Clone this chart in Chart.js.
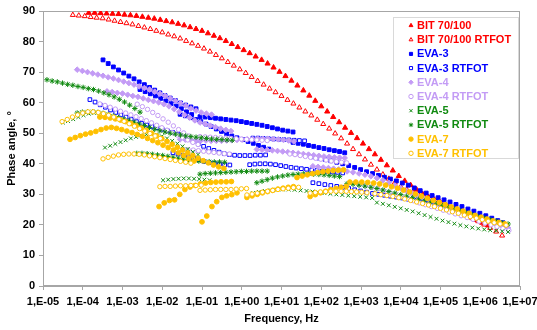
<!DOCTYPE html>
<html>
<head>
<meta charset="utf-8">
<script src="https://cdn.jsdelivr.net/npm/chart.js@4.4.1/dist/chart.umd.min.js"></script>
<style>
  html, body { margin: 0; padding: 0; background: #fff; }
  #wrap { width: 537px; height: 330px; }
</style>
</head>
<body>
<div id="wrap"><canvas id="phaseChart" width="537" height="330"></canvas></div>
<script>
// values: [log10(frequency, Hz), phase angle in degrees]
const bit70 = [
  [-3.85,89.4],[-3.7,89.4],[-3.55,89.3],[-3.4,89.2],[-3.25,89.1],[-3.1,89.0],[-2.95,88.8],[-2.8,88.6],[-2.65,88.4],[-2.5,88.1],
  [-2.35,87.8],[-2.2,87.5],[-2.05,87.1],[-1.9,86.7],[-1.75,86.3],[-1.6,85.8],[-1.45,85.3],[-1.3,84.7],[-1.15,84.1],[-1.0,83.5],
  [-0.85,82.7],[-0.7,81.9],[-0.55,81.1],[-0.4,80.2],[-0.25,79.2],[-0.1,78.2],[0.05,77.2],[0.2,76.2],[0.35,75.1],[0.5,74.0],
  [0.65,72.8],[0.8,71.5],[0.95,70.1],[1.1,68.7],[1.25,67.2],[1.4,65.6],[1.55,64.0],[1.7,62.3],[1.85,60.6],[2.0,58.8],
  [2.15,57.1],[2.3,55.3],[2.45,53.6],[2.6,51.8],[2.75,50.1],[2.9,48.4],[3.05,46.6],[3.2,44.8],[3.35,43.1],[3.5,41.3],
  [3.65,39.5],[3.8,37.8],[3.95,36.0],[4.1,34.4],[4.25,33.0],[4.4,31.5],[4.55,30.1],[4.7,29.1],[4.85,28.2],[5.0,27.3],
  [5.15,26.4],[5.3,25.5],[5.45,24.6],[5.6,23.6],[5.75,22.6],[5.9,21.6],[6.05,20.7],[6.2,19.8]
];
const bit70Rtfot = [
  [-4.25,88.7],[-4.1,88.5],[-3.95,88.3],[-3.8,88.0],[-3.65,87.8],[-3.5,87.6],[-3.35,87.2],[-3.2,86.8],[-3.05,86.4],[-2.9,86.0],
  [-2.75,85.6],[-2.6,85.1],[-2.45,84.6],[-2.3,84.1],[-2.15,83.5],[-2.0,83.0],[-1.85,82.3],[-1.7,81.7],[-1.55,81.0],[-1.4,80.2],
  [-1.25,79.4],[-1.1,78.6],[-0.95,77.7],[-0.8,76.7],[-0.65,75.6],[-0.5,74.5],[-0.35,73.3],[-0.2,72.1],[-0.05,70.9],[0.1,69.7],
  [0.25,68.4],[0.4,67.1],[0.55,65.9],[0.7,64.6],[0.85,63.4],[1.0,62.2],[1.15,60.9],[1.3,59.7],[1.45,58.4],[1.6,57.1],
  [1.75,55.8],[1.9,54.4],[2.05,53.0],[2.2,51.5],[2.35,49.9],[2.5,48.3],[2.65,46.6],[2.8,44.8],[2.95,43.1],[3.1,41.4],
  [3.25,39.7],[3.4,38.1],[3.55,36.5],[3.7,35.1],[3.85,33.8],[4.0,32.5],[4.15,31.6],[4.3,30.7],[4.45,29.8],[4.6,29.0],
  [4.75,28.2],[4.9,27.5],[5.05,26.7],[5.2,25.9],[5.35,25.0],[5.5,24.2],[5.65,23.2],[5.8,22.2],[5.95,21.2],[6.1,20.1],
  [6.25,19.0],[6.4,17.8],[6.55,16.5]
];
const eva3 = [
  [-3.49,74.0],[-3.36,72.8],[-3.23,71.7],[-3.1,70.7],[-2.97,69.7],[-2.84,68.7],[-2.71,67.8],[-2.58,66.8],[-2.45,65.9],[-2.32,65.0],
  [-2.19,64.1],[-2.06,63.2],[-1.93,62.3],[-1.8,61.5],[-1.67,60.7],[-1.54,59.9],[-1.41,59.2],[-1.28,58.6],[-1.15,58.0],
  [-2.56,64.3],[-2.43,63.6],[-2.3,62.9],[-2.17,62.2],[-2.04,61.4],[-1.91,60.6],[-1.78,59.7],[-1.65,58.9],[-1.52,58.0],[-1.39,57.0],[-1.26,56.1],
  [-1.55,56.2],[-1.42,55.7],[-1.29,55.1],[-1.16,54.5],[-1.03,53.8],[-0.9,53.0],[-0.77,52.2],[-0.64,51.4],[-0.51,50.6],[-0.38,49.8],[-0.25,49.1],[-0.12,48.5],
  [-1.05,55.4],[-0.92,55.3],[-0.79,55.1],[-0.66,54.9],[-0.53,54.7],[-0.4,54.5],[-0.27,54.3],[-0.14,54.1],[-0.01,53.8],[0.12,53.5],
  [0.25,53.2],[0.38,52.9],[0.51,52.6],[0.64,52.2],[0.77,51.8],[0.9,51.4],[1.03,51.0],[1.16,50.7],[1.29,50.4],
  [0.03,47.9],[0.16,47.3],[0.29,46.7],[0.42,46.0],[0.55,45.4],[0.68,44.8],
  [1.29,47.0],[1.42,46.7],[1.55,46.4],[1.68,46.0],[1.81,45.7],[1.94,45.3],[2.07,45.0],[2.2,44.6],[2.33,44.3],[2.46,44.0],[2.59,43.6],
  [1.79,42.3],[1.94,41.9],[2.09,41.5],[2.24,41.0],[2.39,40.5],[2.54,40.0],[2.69,39.4],[2.84,38.8],[2.99,38.1],[3.14,37.4],
  [3.29,36.8],[3.44,36.2],[3.59,35.6],[3.74,35.0],[3.89,34.4],[4.04,33.7],[4.19,33.0],[4.34,32.1],[4.49,31.2],[4.64,30.4],
  [4.79,29.6],[4.94,28.9],[5.09,28.2],[5.24,27.5],[5.39,26.7],[5.54,26.0],[5.69,25.2],[5.84,24.5],[5.99,23.8],[6.14,23.0],
  [6.29,22.2],[6.44,21.4],[6.57,20.7]
];
const eva3Rtfot = [
  [-3.82,61.0],[-3.69,60.2],[-3.56,59.3],[-3.43,58.5],[-3.3,57.6],[-3.17,56.8],[-3.04,56.0],[-2.91,55.2],[-2.78,54.5],[-2.65,53.8],
  [-2.52,53.2],[-2.39,52.7],[-2.26,52.2],[-2.13,51.8],[-2.0,51.3],[-1.87,50.8],[-1.74,50.3],[-1.61,49.7],[-1.48,49.0],[-1.35,48.2],
  [-1.22,47.3],[-1.09,46.5],[-0.96,45.7],[-0.83,45.0],[-0.7,44.4],[-0.57,43.8],[-0.44,43.3],[-0.31,43.0],[-0.18,42.8],[-0.05,42.7],
  [0.08,42.7],[0.21,42.7],[0.34,42.8],[0.47,42.8],[0.6,42.9],
  [-1.73,43.6],[-1.6,43.2],[-1.47,42.8],[-1.34,42.3],[-1.21,41.8],[-1.08,41.3],[-0.95,40.8],[-0.82,40.4],[-0.69,40.1],[-0.56,39.9],[-0.43,39.7],[-0.3,39.6],
  [0.28,48.4],[0.41,48.4],[0.54,48.3],[0.67,48.2],[0.8,48.1],[0.93,48.0],[1.06,47.9],[1.19,47.8],[1.32,47.7],[1.45,47.6],[1.58,47.5],
  [0.2,39.7],[0.33,39.9],[0.46,40.0],[0.59,40.0],[0.72,39.9],[0.85,39.7],[0.98,39.4],[1.11,39.1],[1.24,38.8],[1.37,38.6],
  [1.5,38.4],[1.63,38.2],[1.76,38.0],[1.89,37.8],[2.02,37.6],[2.15,37.5],[2.28,37.3],[2.41,37.2],[2.54,37.0],
  [1.79,33.8],[1.94,33.5],[2.09,33.2],[2.24,32.9],[2.39,32.6],[2.54,32.3],[2.69,31.9],[2.84,31.5],[2.99,31.1],[3.14,30.7],
  [3.29,30.3],[3.44,30.0],[3.59,29.7],[3.74,29.4],[3.89,29.1],[4.04,28.8],[4.19,28.4],[4.34,28.0],[4.49,27.5],[4.64,27.0],
  [4.79,26.5],[4.94,26.0],[5.09,25.4],[5.24,24.8],[5.39,24.2],[5.54,23.6],[5.69,23.0],[5.84,22.4],[5.99,21.8],[6.14,21.2],
  [6.29,20.6],[6.44,20.0],[6.59,19.4]
];
const eva4 = [
  [-4.14,70.8],[-4.01,70.4],[-3.88,70.0],[-3.75,69.6],[-3.62,69.2],[-3.49,68.8],[-3.36,68.3],[-3.23,67.9],[-3.1,67.4],[-2.97,66.9],
  [-2.84,66.4],[-2.71,65.9],[-2.58,65.3],[-2.45,64.8],[-2.32,64.3],[-2.19,63.6],[-2.06,62.9],[-1.93,62.2],[-1.8,61.4],[-1.67,60.6],
  [-1.54,59.8],[-1.41,59.0],[-1.28,58.1],[-1.15,57.4],[-1.02,56.8],[-0.89,56.4],[-0.76,56.1],
  [-3.39,63.7],[-3.26,63.5],[-3.13,63.2],[-3.0,63.0],[-2.87,62.6],[-2.74,62.2],[-2.61,61.9],[-2.48,61.4],[-2.35,60.9],[-2.22,60.5],
  [-2.09,60.1],[-1.96,59.5],[-1.83,58.8],[-1.7,57.9],[-1.57,57.0],[-1.44,56.0],[-1.31,55.1],[-1.18,54.2],[-1.05,53.5],[-0.92,53.0],
  [-0.79,52.5],[-0.66,52.0],[-0.53,51.5],[-0.4,51.1],[-0.27,50.7],
  [-1.55,48.0],[-1.42,47.9],[-1.29,47.8],[-1.16,47.7],[-1.03,47.6],[-0.9,47.6],[-0.77,47.5],[-0.64,47.5],[-0.51,47.5],[-0.38,47.6],
  [-0.25,47.7],[-0.12,47.8],[0.01,47.9],[0.14,48.0],[0.27,48.1],[0.4,48.2],[0.53,48.2],[0.66,48.2],[0.79,48.1],[0.92,48.0],
  [1.05,47.8],[1.18,47.6],[1.31,47.3],
  [0.38,44.7],[0.51,44.6],[0.64,44.5],[0.77,44.4],[0.9,44.2],[1.03,44.0],[1.16,43.8],[1.29,43.6],[1.42,43.4],[1.55,43.2],
  [1.68,43.0],[1.81,42.8],[1.94,42.6],[2.07,42.4],[2.2,42.3],[2.33,42.1],[2.46,42.0],[2.59,41.9],
  [1.79,39.2],[1.92,39.0],[2.05,38.8],[2.18,38.6],[2.31,38.4],[2.44,38.2],
  [2.65,37.5],[2.8,37.2],[2.95,36.8],[3.1,36.4],[3.25,35.9],[3.4,35.3],[3.55,34.6],[3.7,33.8],[3.85,32.9],[4.0,32.0],
  [4.15,31.0],[4.3,30.1],[4.45,29.2],[4.6,28.4],[4.75,27.6],[4.9,26.9],[5.05,26.2],[5.2,25.5],[5.35,24.8],[5.5,24.1],
  [5.65,23.4],[5.8,22.7],[5.95,22.0],[6.1,21.4],[6.25,20.8],[6.4,20.2],[6.55,19.6],[6.7,19.0]
];
const eva4Rtfot = [
  [-3.57,59.6],[-3.44,59.1],[-3.31,58.5],[-3.18,57.9],[-3.05,57.2],[-2.92,56.6],[-2.79,56.0],[-2.66,55.4],[-2.53,54.8],[-2.4,54.1],
  [-2.27,53.4],[-2.14,52.6],[-2.01,51.8],[-1.88,51.0],[-1.75,50.2],[-1.62,49.4],[-1.49,48.6],[-1.36,47.8],[-1.23,47.0],[-1.1,46.3],
  [-2.63,59.5],[-2.5,58.7],[-2.37,57.8],[-2.24,56.8],[-2.11,55.8],[-1.98,54.7],[-1.85,53.6],[-1.72,52.4],[-1.59,51.2],[-1.46,50.1],[-1.33,49.1],
  [-1.05,48.9],[-0.92,48.8],[-0.79,48.7],[-0.66,48.6],[-0.53,48.5],[-0.4,48.4],[-0.27,48.3],[-0.14,48.2],[-0.01,48.1],[0.12,48.0],
  [0.25,47.9],[0.38,47.8],[0.51,47.7],[0.64,47.6],
  [-1.48,44.7],[-1.35,44.6],[-1.22,44.5],[-1.09,44.3],[-0.96,44.1],[-0.83,43.9],[-0.7,43.7],[-0.57,43.5],[-0.44,43.3],[-0.31,43.2],
  [1.21,43.2],[1.34,43.0],[1.47,42.7],[1.6,42.4],[1.73,42.1],[1.86,41.8],[1.99,41.5],[2.12,41.2],[2.25,40.9],[2.38,40.7],[2.51,40.5],[2.64,40.3],
  [2.97,33.2],[3.12,32.8],[3.27,32.3],[3.42,31.8],[3.57,31.2],[3.72,30.6],[3.87,30.0],[4.02,29.3],[4.17,28.6],[4.32,27.9],
  [4.47,27.2],[4.62,26.6],[4.77,26.0],[4.92,25.4],[5.07,24.8],[5.22,24.2],[5.37,23.6],[5.52,23.0],[5.67,22.4],[5.82,21.8],
  [5.97,21.2],[6.12,20.6],[6.27,20.0],[6.42,19.4],[6.57,18.8],[6.72,18.2]
];
const eva5 = [
  [-4.5,53.5],[-4.37,54.0],[-4.24,54.6],[-4.11,55.3],[-3.98,55.9],[-3.85,56.4],[-3.72,56.7],
  [-3.44,45.3],[-3.31,45.9],[-3.18,46.5],[-3.05,47.1],[-2.92,47.7],[-2.79,48.3],[-2.66,48.8],[-2.53,49.3],[-2.4,49.6],[-2.27,49.7],
  [-2.14,49.5],[-2.01,49.0],[-1.88,48.3],[-1.75,47.5],[-1.62,46.6],[-1.49,45.7],[-1.36,44.8],[-1.23,43.9],[-1.1,43.0],
  [-1.98,34.6],[-1.85,34.8],[-1.72,35.0],[-1.59,35.1],[-1.46,35.2],[-1.33,35.2],[-1.2,35.1],[-1.07,35.0],[-0.94,34.8],[-0.81,34.6],
  [0.28,30.4],[0.43,30.8],[0.58,31.1],[0.73,31.3],[0.88,31.5],[1.03,31.6],[1.18,31.6],[1.33,31.5],[1.48,31.3],[1.63,31.1],
  [1.78,30.9],[1.93,30.6],[2.08,30.4],[2.23,30.2],[2.38,30.0],[2.53,29.8],[2.68,29.6],[2.83,29.4],[2.98,29.2],[3.13,29.0],[3.28,28.8],
  [3.4,27.3],[3.55,26.9],[3.7,26.4],[3.85,25.9],[4.0,25.4],[4.15,24.9],[4.3,24.4],[4.45,23.8],[4.6,23.2],[4.75,22.6],
  [4.9,22.0],[5.05,21.4],[5.2,20.9],[5.35,20.4],[5.5,19.9],[5.65,19.5],[5.8,19.1],[5.95,18.8],[6.1,18.5],[6.25,18.3],
  [6.4,18.1],[6.55,17.9],[6.7,17.7]
];
const eva5Rtfot = [
  [-4.9,67.5],[-4.77,67.1],[-4.64,66.8],[-4.51,66.4],[-4.38,66.0],[-4.25,65.7],[-4.12,65.3],[-3.99,65.0],[-3.86,64.6],[-3.73,64.3],
  [-3.6,63.8],[-3.47,63.2],[-3.34,62.6],[-3.21,61.9],[-3.08,61.1],[-2.95,60.2],[-2.82,59.2],[-2.69,58.1],[-2.56,56.9],
  [-4.14,56.6],[-4.01,56.9],[-3.88,57.0],[-3.75,57.0],[-3.62,56.8],[-3.49,56.5],[-3.36,56.1],[-3.23,55.6],[-3.1,55.1],[-2.97,54.6],
  [-2.84,54.1],[-2.71,53.6],[-2.58,53.0],[-2.45,52.5],[-2.32,51.9],[-2.19,51.3],[-2.06,50.8],[-1.93,50.4],[-1.8,50.0],[-1.67,49.7],
  [-1.54,49.4],[-1.41,49.1],[-1.28,48.9],[-1.15,48.7],[-1.02,48.5],[-0.89,48.3],[-0.76,48.1],[-0.63,48.0],[-0.5,47.9],[-0.37,47.8],[-0.24,47.7],
  [-2.64,43.4],[-2.51,43.4],[-2.38,43.3],[-2.25,43.1],[-2.12,42.9],[-1.99,42.7],[-1.86,42.4],[-1.73,42.1],[-1.6,41.8],[-1.47,41.5],
  [-1.34,41.3],[-1.21,41.1],[-1.08,40.9],[-0.95,40.8],[-0.82,40.7],[-0.69,40.6],[-0.56,40.6],[-0.43,40.5],
  [-1.05,36.6],[-0.92,36.8],[-0.79,36.9],[-0.66,37.0],[-0.53,37.1],[-0.4,37.2],[-0.27,37.3],[-0.14,37.4],[-0.01,37.5],[0.12,37.5],
  [0.25,37.6],[0.38,37.6],[0.51,37.6],[0.64,37.6],
  [0.38,33.8],[0.51,34.3],[0.64,34.8],[0.77,35.3],[0.9,35.7],[1.03,36.0],[1.16,36.3],[1.29,36.5],[1.42,36.6],[1.55,36.7],
  [1.68,36.7],[1.81,36.6],[1.94,36.5],[2.07,36.4],[2.2,36.2],[2.33,36.0],[2.46,35.8],
  [2.65,33.5],[2.8,33.3],[2.95,33.0],[3.1,32.7],[3.25,32.3],[3.4,31.9],[3.55,31.4],[3.7,30.9],[3.85,30.4],[4.0,29.9],
  [4.15,29.4],[4.3,28.9],[4.45,28.4],[4.6,27.9],[4.75,27.4],[4.9,26.9],[5.05,26.3],[5.2,25.7],[5.35,25.1],[5.5,24.5],
  [5.65,23.9],[5.8,23.3],[5.95,22.7],[6.1,22.2],[6.25,21.7],[6.4,21.2],[6.55,20.7],[6.7,20.3]
];
const eva7 = [
  [-4.32,48.0],[-4.19,48.6],[-4.06,49.2],[-3.93,49.7],[-3.8,50.1],[-3.67,50.6],[-3.54,51.2],[-3.41,51.7],[-3.28,51.9],[-3.15,51.6],
  [-3.02,51.2],[-2.89,50.7],[-2.76,50.2],[-2.63,49.6],[-2.5,49.0],[-2.37,48.3],[-2.24,47.6],[-2.11,46.9],[-1.98,46.1],[-1.85,45.3],
  [-1.72,44.5],[-1.59,43.6],[-1.46,42.7],[-1.33,41.8],[-1.2,40.9],
  [-3.57,55.3],[-3.44,55.2],[-3.31,55.0],[-3.18,54.7],[-3.05,54.3],[-2.92,53.8],[-2.79,53.2],[-2.66,52.5],[-2.53,51.7],[-2.4,50.9],
  [-2.27,50.0],[-2.14,49.1],[-2.01,48.2],[-1.88,47.3],[-1.75,46.4],[-1.62,45.4],[-1.49,44.5],[-1.36,43.6],[-1.23,42.7],[-1.1,41.8],
  [-0.97,41.0],[-0.84,40.3],[-0.71,39.6],[-0.58,39.0],[-0.45,38.5],
  [-2.08,26.0],[-1.95,27.2],[-1.82,28.0],[-1.69,28.2],[-1.56,30.0],[-1.43,31.6],[-1.3,32.4],[-1.17,32.9],[-1.04,33.4],[-0.91,33.7],
  [-0.78,33.9],[-0.65,34.0],[-0.52,34.1],[-0.39,34.1],[-0.26,34.2],
  [-1.0,21.0],[-0.88,22.9],[-0.75,26.0],[-0.63,27.6],[-0.5,29.0],[-0.38,29.5],[-0.25,29.9],[-0.12,30.5],
  [0.13,29.0],[0.26,29.5],[0.39,30.0],[0.52,30.5],[0.65,30.9],[0.78,31.3],[0.91,31.7],[1.04,32.0],[1.17,32.3],[1.3,32.5],
  [1.72,29.3],[1.85,29.9],[1.98,30.5],[2.11,31.0],[2.24,31.5],[2.37,31.9],[2.5,32.3],[2.63,32.6],
  [1.39,35.5],[1.52,36.0],[1.65,36.4],[1.78,36.8],[1.91,37.1],[2.04,37.4],[2.17,37.6],[2.3,37.8],[2.43,37.9],[2.56,38.0],
  [2.72,34.0],[2.87,34.0],[3.02,34.0],[3.17,33.9],[3.32,33.7],[3.47,33.4],[3.62,33.0],[3.77,32.5],[3.92,32.0],[4.07,31.4],
  [4.22,30.8],[4.37,30.1],[4.52,29.4],[4.67,28.7],[4.82,28.0],[4.97,27.3],[5.12,26.6],[5.27,25.9],[5.42,25.2],[5.57,24.5],
  [5.72,23.8],[5.87,23.1],[6.02,22.5],[6.17,21.9],[6.32,21.3],[6.47,20.8],[6.62,20.3]
];
const eva7Rtfot = [
  [-4.52,53.8],[-4.39,54.5],[-4.26,55.3],[-4.13,56.0],[-4.0,56.6],[-3.87,57.0],[-3.74,57.0],[-3.61,56.8],[-3.48,56.4],[-3.35,55.9],
  [-3.22,55.3],[-3.09,54.6],[-2.96,53.9],[-2.83,53.1],[-2.7,52.3],[-2.57,51.5],[-2.44,50.7],[-2.31,49.9],[-2.18,49.1],[-2.05,48.3],
  [-3.49,41.6],[-3.36,42.1],[-3.23,42.5],[-3.1,42.9],[-2.97,43.1],[-2.84,43.2],[-2.71,43.2],[-2.58,43.1],[-2.45,42.9],[-2.32,42.6],
  [-2.19,42.3],[-2.06,42.0],[-1.93,41.7],[-1.8,41.4],[-1.67,41.1],[-1.54,40.8],[-1.41,40.5],[-1.28,40.2],
  [-2.06,32.5],[-1.93,32.6],[-1.8,32.6],[-1.67,32.7],[-1.54,32.8],[-1.41,32.8],[-1.28,32.9],[-1.15,32.9],[-1.02,33.0],
  [-1.05,31.3],[-0.92,31.4],[-0.79,31.5],[-0.66,31.6],[-0.53,31.6],[-0.4,31.6],[-0.27,31.6],[-0.14,31.7],[-0.01,31.8],[0.12,31.9],
  [0.13,29.8],[0.26,30.1],[0.39,30.4],[0.52,30.7],[0.65,31.0],[0.78,31.3],[0.91,31.6],[1.04,31.8],[1.17,32.0],[1.3,32.2],[1.43,32.3],
  [1.72,30.4],[1.85,30.6],[1.98,30.8],[2.11,30.9],[2.24,31.0],[2.37,31.0],[2.5,31.0],[2.63,31.0],[2.76,30.9],[2.89,30.8],[3.02,30.7],[3.15,30.5],
  [3.35,30.2],[3.5,29.9],[3.65,29.6],[3.8,29.3],[3.95,28.9],[4.1,28.5],[4.25,28.0],[4.4,27.5],[4.55,27.0],[4.7,26.5],
  [4.85,26.0],[5.0,25.4],[5.15,24.9],[5.3,24.3],[5.45,23.8],[5.6,23.2],[5.75,22.7],[5.9,22.2],[6.05,21.7],[6.2,21.2],
  [6.35,20.7],[6.5,20.3],[6.65,19.9]
];

const seriesNames = ['BIT 70/100', 'BIT 70/100 RTFOT', 'EVA-3', 'EVA-3 RTFOT', 'EVA-4', 'EVA-4 RTFOT',
                     'EVA-5', 'EVA-5 RTFOT', 'EVA-7', 'EVA-7 RTFOT'];
const seriesValues = [bit70, bit70Rtfot, eva3, eva3Rtfot, eva4, eva4Rtfot, eva5, eva5Rtfot, eva7, eva7Rtfot];
const xTickExps = [-5, -4, -3, -2, -1, 0, 1, 2, 3, 4, 5, 6, 7];
const yTicks = [0, 10, 20, 30, 40, 50, 60, 70, 80, 90];

// marker look per series
const seriesStyles = [
  { color: '#FF0000', shape: 'triangle', open: false, r: 3.0 },
  { color: '#FF0000', shape: 'triangle', open: true,  r: 2.9 },
  { color: '#0000FF', shape: 'rect',     open: false, r: 2.7 },
  { color: '#0000FF', shape: 'rect',     open: true,  r: 2.6 },
  { color: '#C39BF5', shape: 'rectRot',  open: false, r: 2.8 },
  { color: '#C39BF5', shape: 'circle',   open: true,  r: 2.2 },
  { color: '#108A10', shape: 'crossRot', open: false, r: 2.7 },
  { color: '#108A10', shape: 'star',     open: false, r: 2.7 },
  { color: '#FFC000', shape: 'circle',   open: false, r: 2.4 },
  { color: '#FFC000', shape: 'circle',   open: true,  r: 2.2 }
];

const font = '"Liberation Sans", Arial, sans-serif';

const datasets = seriesValues.map((vals, i) => {
  const st = seriesStyles[i];
  return {
    label: seriesNames[i],
    data: vals.map(p => ({ x: Math.pow(10, p[0]), y: p[1] })),
    showLine: false,
    pointStyle: st.shape,
    pointRadius: st.r,
    pointHoverRadius: st.r,
    pointBorderWidth: 1,
    borderColor: st.color,
    backgroundColor: st.open ? '#FFFFFF' : st.color,
    order: -i
  };
});

// grey box round the plot area
const plotFrame = {
  id: 'plotFrame',
  beforeDatasetsDraw(chart) {
    const { ctx, chartArea: a } = chart;
    ctx.save();
    ctx.strokeStyle = '#A6A6A6';
    ctx.lineWidth = 1;
    ctx.strokeRect(Math.round(a.left) + 0.5, Math.round(a.top) + 0.5, Math.round(a.width) - 1, Math.round(a.height) - 1);
    ctx.restore();
  }
};

// legend box drawn inside the plot, top right
const insideLegend = {
  id: 'insideLegend',
  afterDatasetsDraw(chart) {
    const { ctx, chartArea } = chart;
    const boxW = 125, boxH = 141;
    const x0 = Math.round(chartArea.right) - boxW - 2;
    const y0 = Math.round(chartArea.top) + 6;
    ctx.save();
    ctx.fillStyle = '#FFFFFF';
    ctx.fillRect(x0, y0, boxW, boxH);
    ctx.strokeStyle = '#D9D9D9';
    ctx.lineWidth = 1;
    ctx.strokeRect(x0 + 0.5, y0 + 0.5, boxW, boxH);
    ctx.font = 'bold 11px ' + font;
    ctx.textBaseline = 'middle';
    ctx.textAlign = 'left';
    chart.data.datasets.forEach((ds, i) => {
      const y = y0 + 8.5 + i * 14.2;
      ctx.strokeStyle = ds.borderColor;
      ctx.fillStyle = ds.backgroundColor;
      ctx.lineWidth = 1;
      if (Chart.helpers && Chart.helpers.drawPoint) {
        Chart.helpers.drawPoint(ctx, { pointStyle: ds.pointStyle, radius: 2.2, borderWidth: 1, rotation: 0 }, x0 + 18, y);
      } else {
        ctx.beginPath(); ctx.arc(x0 + 18, y, 2.2, 0, Math.PI * 2); ctx.fill(); ctx.stroke();
      }
      ctx.fillStyle = ds.borderColor;
      ctx.fillText(ds.label, x0 + 24, y + 0.5);
    });
    ctx.restore();
  }
};

new Chart(document.getElementById('phaseChart'), {
  type: 'scatter',
  data: { datasets: datasets },
  options: {
    responsive: false,
    animation: false,
    devicePixelRatio: 1,
    layout: { padding: { top: 11, right: 17, left: 3, bottom: 2 } },
    plugins: {
      legend: { display: false },
      tooltip: { enabled: false }
    },
    scales: {
      x: {
        type: 'logarithmic',
        min: Math.pow(10, xTickExps[0]),
        max: Math.pow(10, xTickExps[xTickExps.length - 1]),
        afterBuildTicks: scale => {
          scale.ticks = xTickExps.map(e => ({ value: Math.pow(10, e) }));
        },
        afterFit: scale => {
          scale.height = 42;
          scale.paddingLeft = 0;
          scale.paddingRight = 0;
        },
        grid: { display: true, drawOnChartArea: false, drawTicks: true, tickLength: 4, color: '#A6A6A6' },
        border: { display: true, color: '#A6A6A6' },
        ticks: {
          autoSkip: false,
          maxRotation: 0,
          minRotation: 0,
          padding: 5,
          color: '#000000',
          font: { family: font, size: 11, weight: 'bold' },
          callback: v => {
            const e = Math.round(Math.log10(v));
            return '1,E' + (e < 0 ? '-' : '+') + String(Math.abs(e)).padStart(2, '0');
          }
        },
        title: {
          display: true,
          text: 'Frequency, Hz',
          color: '#000000',
          padding: { top: 0, bottom: 2 },
          font: { family: font, size: 11, weight: 'bold' }
        }
      },
      y: {
        min: yTicks[0],
        max: yTicks[yTicks.length - 1],
        afterBuildTicks: scale => {
          scale.ticks = yTicks.map(v => ({ value: v }));
        },
        afterFit: scale => { scale.width = 40; },
        grid: { display: true, drawOnChartArea: false, drawTicks: true, tickLength: 4, color: '#A6A6A6' },
        border: { display: true, color: '#A6A6A6' },
        ticks: {
          padding: 4,
          color: '#000000',
          font: { family: font, size: 11, weight: 'bold' }
        },
        title: {
          display: true,
          text: 'Phase angle, °',
          color: '#000000',
          padding: { top: 2, bottom: 0 },
          font: { family: font, size: 11, weight: 'bold' }
        }
      }
    }
  },
  plugins: [plotFrame, insideLegend]
});
</script>
</body>
</html>
